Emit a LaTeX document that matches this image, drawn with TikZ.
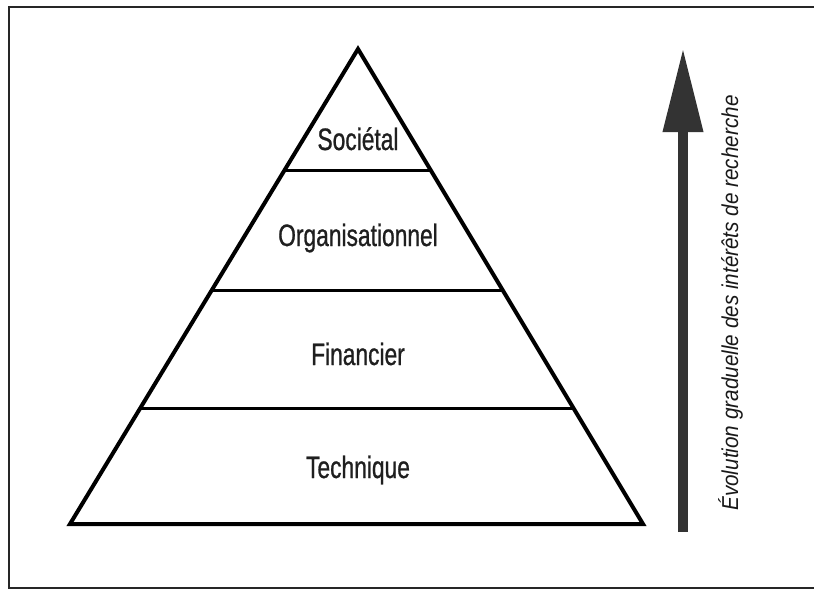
\documentclass[tikz,border=0pt]{standalone}
\usepackage{fontspec}
\setmainfont{Liberation Sans}
\newfontfamily\lvlfont[FakeStretch=0.735,FakeBold=0.8]{Liberation Sans}
\newfontfamily\axisfont[FakeStretch=0.9]{Liberation Sans}
\usetikzlibrary{calc,arrows.meta}

\tikzset{
  outline/.style={line width=4pt, line join=miter},
  divider/.style={line width=3pt},
  levellabel/.style={anchor=base, inner sep=0pt, text=black!88,
    font=\lvlfont\fontsize{31}{36}\selectfont},
  axislabel/.style={anchor=base, rotate=90, inner sep=0pt, text=black!90,
    font=\axisfont\itshape\fontsize{23}{27}\selectfont},
  frameline/.style={line width=2.5pt, black!85},
  growth/.style={line width=10pt, black!80,
    -{Triangle[length=84pt,width=38pt]}}
}

\begin{document}
\begin{tikzpicture}[x=1pt,y=-1pt]
  \useasboundingbox (0,0) rectangle (814,590);

  % open frame: top, left and bottom edges
  \draw[frameline] (814,7) -- (9,7) -- (9,588) -- (814,588);

  % pyramid corners
  \coordinate (apex) at (358,49);
  \coordinate (baseL) at (70,524);
  \coordinate (baseR) at (643,524);

  % level boundaries on the sides
  \coordinate (l1) at ($(apex)!0.2568!(baseL)$);
  \coordinate (r1) at ($(apex)!0.2568!(baseR)$);
  \coordinate (l2) at ($(apex)!0.5074!(baseL)$);
  \coordinate (r2) at ($(apex)!0.5074!(baseR)$);
  \coordinate (l3) at ($(apex)!0.7558!(baseL)$);
  \coordinate (r3) at ($(apex)!0.7558!(baseR)$);

  \draw[divider] (l1) -- (r1);
  \draw[divider] (l2) -- (r2);
  \draw[divider] (l3) -- (r3);
  \draw[outline] (apex) -- (baseL) -- (baseR) -- cycle;

  % level names
  \node[levellabel] (societal) at (358,150) {Sociétal};
  \node[levellabel] (orga) at (358,246) {Organisationnel};
  \node[levellabel] (fin) at (358,365) {Financier};
  \node[levellabel] (tech) at (358,478) {Technique};

  % upward arrow and its caption
  \coordinate (tail) at (683,532);
  \coordinate (tip) at (683,48);
  \draw[growth] (tail) -- (tip);
  \node[axislabel] (caption) at (738,303) {Évolution graduelle des intérêts de recherche};
\end{tikzpicture}
\end{document}
